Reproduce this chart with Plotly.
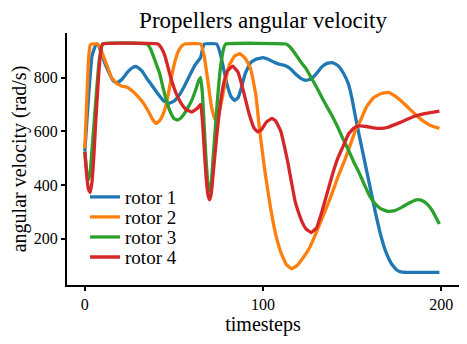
import plotly.graph_objects as go

# values (timestep, rad/s)
T_ROTOR1 = [0, 2, 4, 6, 7, 8, 10, 13, 16, 18, 21, 24, 27, 29, 32, 35, 38, 41, 44, 47,
            50, 53, 56, 59, 62, 65, 66, 67, 74, 76, 78, 80, 82, 84, 86, 88, 90, 93,
            96, 100, 103, 106, 109, 112, 115, 118, 121, 124, 127, 130, 133, 136, 139,
            142, 145, 148, 150, 152, 154, 157, 160, 163, 166, 169, 172, 175, 178, 182, 199]
V_ROTOR1 = [525, 720, 880, 920, 925, 915, 875, 826, 788, 780, 795, 820, 838, 841, 825,
            795, 768, 740, 715, 704, 712, 735, 770, 810, 848, 875, 905, 925, 925, 890,
            830, 770, 730, 715, 725, 765, 815, 855, 868, 874, 868, 858, 850, 846, 835,
            815, 798, 790, 795, 815, 840, 853, 856, 845, 818, 775, 720, 650, 585, 490,
            395, 300, 215, 150, 108, 84, 76, 75, 75]

T_ROTOR2 = [0, 1, 2, 3, 4, 7, 9, 11, 13, 15, 18, 21, 24, 27, 30, 33, 36, 38, 40, 42,
            44, 46, 48, 50, 52, 54, 56, 65, 67, 69, 71, 73, 75, 77, 79, 81, 84, 87, 90,
            93, 96, 98, 101, 104, 107, 110, 113, 116, 119, 122, 126, 130, 134, 138,
            142, 146, 149, 152, 155, 158, 162, 166, 170, 174, 178, 182, 186, 190, 194, 199]
V_ROTOR2 = [537, 700, 860, 920, 925, 925, 905, 870, 835, 800, 778, 768, 763, 748, 728,
            704, 670, 645, 630, 640, 665, 710, 780, 845, 890, 915, 925, 925, 880, 790,
            695, 645, 660, 720, 790, 845, 880, 889, 872, 835, 735, 610, 455, 325, 220,
            150, 105, 88, 100, 125, 165, 225, 290, 355, 430, 495, 550, 605, 645, 690,
            725, 740, 745, 732, 710, 685, 660, 638, 622, 611]

T_ROTOR3 = [0, 1, 2, 3, 4, 6, 8, 10, 35, 37, 39, 42, 44, 46, 48, 50, 52, 54, 56, 58,
            60, 62, 64, 65, 66, 67, 68, 69, 70, 71, 72, 74, 76, 78, 79, 113, 115, 118,
            121, 124, 127, 130, 133, 136, 139, 142, 145, 148, 151, 154, 157, 160, 163,
            166, 170, 174, 178, 182, 186, 189, 192, 195, 199]
V_ROTOR3 = [525, 455, 420, 445, 530, 700, 860, 925, 925, 905, 870, 815, 760, 710, 672,
            648, 642, 650, 668, 690, 715, 750, 790, 800, 740, 620, 500, 410, 378, 410,
            500, 680, 830, 910, 925, 925, 915, 890, 860, 835, 800, 765, 727, 690, 655,
            615, 570, 530, 485, 445, 400, 358, 330, 312, 302, 305, 318, 333, 345, 343,
            330, 305, 255]

T_ROTOR4 = [0, 1, 2, 3, 4, 5, 6, 7, 8, 9, 10, 41, 43, 45, 48, 51, 54, 57, 60, 63, 65,
            66, 67, 68, 69, 70, 71, 72, 74, 76, 78, 80, 83, 86, 89, 92, 95, 97, 99, 102,
            105, 107, 110, 112, 114, 116, 118, 120, 122, 124, 127, 130, 133, 136, 139,
            142, 145, 148, 151, 154, 158, 162, 166, 170, 174, 178, 182, 186, 190, 194, 199]
V_ROTOR4 = [524, 440, 385, 372, 410, 500, 620, 730, 830, 900, 925, 925, 910, 880, 805,
            745, 705, 680, 672, 685, 700, 640, 535, 435, 368, 345, 370, 440, 580, 700,
            780, 825, 843, 820, 750, 670, 612, 598, 605, 635, 648, 640, 600, 545, 482,
            410, 340, 297, 262, 238, 223, 240, 300, 370, 440, 500, 545, 590, 612, 620,
            618, 613, 611, 615, 625, 636, 648, 658, 665, 670, 675]

SERIES = [
    ("rotor 1", T_ROTOR1, V_ROTOR1, "#1f77b4"),
    ("rotor 2", T_ROTOR2, V_ROTOR2, "#ff7f0e"),
    ("rotor 3", T_ROTOR3, V_ROTOR3, "#2ca02c"),
    ("rotor 4", T_ROTOR4, V_ROTOR4, "#d62728"),
]

FONT = "Liberation Serif"
# the page body keeps the browser's 8px margin, so the figure is 8px smaller
W, H = 459, 336


def serif(size):
    return dict(family=FONT, size=size, color="black")


fig = go.Figure()
legends = {}
for i, (name, t, v, color) in enumerate(SERIES):
    key = "legend" if i == 0 else f"legend{i + 1}"
    fig.add_trace(go.Scatter(
        x=t, y=v, mode="lines", name=name, legend=key,
        line=dict(color=color, width=3.3, shape="spline", smoothing=0.3)))
    # one legend box per entry so the rows sit 20px apart like matplotlib's
    legends[key] = dict(x=0.046, y=0.349 - 0.0795 * i, xanchor="left",
                        yanchor="middle", bgcolor="rgba(0,0,0,0)",
                        font=serif(19), itemwidth=30)

axis_common = dict(
    showgrid=False, zeroline=False, showline=True, linecolor="black", linewidth=2,
    ticks="outside", ticklen=4, tickwidth=1.5, tickcolor="black",
    tickfont=serif(16), automargin=False)

fig.update_layout(
    width=W, height=H,
    margin=dict(l=59, r=8, t=25, b=59),
    paper_bgcolor="white", plot_bgcolor="white",
    font=serif(15),
    title=dict(text="Propellers angular velocity", x=0.5, xref="paper",
               xanchor="center", y=0.988, yanchor="top", yref="container",
               pad=dict(t=0, b=0), font=serif(23)),
    showlegend=True,
    xaxis=dict(range=[-10, 210], tickvals=[0, 100, 200],
               title=dict(text="timesteps", font=serif(20), standoff=4),
               **axis_common),
    yaxis=dict(range=[28, 966], tickvals=[200, 400, 600, 800],
               title=dict(text="angular velocity (rad/s)", font=serif(20),
                          standoff=4),
               **axis_common),
    **legends,
)

fig.write_html("out.html")
